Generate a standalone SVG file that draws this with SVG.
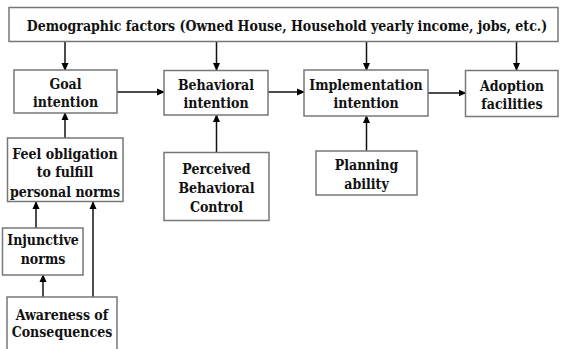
<svg xmlns="http://www.w3.org/2000/svg" width="563" height="349" viewBox="0 0 563 349">
<defs>
<marker id="ah" markerWidth="8" markerHeight="8" refX="7" refY="4" orient="auto" markerUnits="userSpaceOnUse">
<path d="M0,0.5 L8,4 L0,7.5 Z" fill="#000"/>
</marker>
<style>
.box{fill:#fff;stroke:#777;stroke-width:1.5}
.t{font-family:"DejaVu Serif Condensed","DejaVu Serif","Liberation Serif",serif;font-weight:bold;font-size:14px;fill:#111;text-anchor:middle}
.c{stroke:#111;stroke-width:1.5;fill:none;marker-end:url(#ah)}
</style>
</defs>
<rect width="563" height="349" fill="#fff"/>
<g id="connectors">
<line class="c" x1="65" y1="42" x2="65" y2="70"/>
<line class="c" x1="216.5" y1="42" x2="216.5" y2="70"/>
<line class="c" x1="366.5" y1="42" x2="366.5" y2="70"/>
<line class="c" x1="516.5" y1="42" x2="516.5" y2="70"/>
<line class="c" x1="117" y1="92" x2="164" y2="92"/>
<line class="c" x1="268" y1="92" x2="304" y2="92"/>
<line class="c" x1="428" y1="93" x2="465.5" y2="93"/>
<line class="c" x1="65" y1="138" x2="65" y2="113"/>
<line class="c" x1="216.5" y1="152" x2="216.5" y2="115"/>
<line class="c" x1="366.5" y1="151" x2="366.5" y2="116"/>
<line class="c" x1="36" y1="228" x2="36" y2="202"/>
<line class="c" x1="93" y1="297" x2="93" y2="202"/>
<line class="c" x1="43" y1="297" x2="43" y2="275"/>
</g>
<g id="demographic">
<rect class="box" x="9" y="7.5" width="549" height="34"/>
<text class="t" x="287" y="30.5">Demographic factors (Owned House, Household yearly income, jobs, etc.)</text>
</g>
<g id="goal">
<rect class="box" x="14" y="70" width="103" height="43"/>
<text class="t" x="65.5" y="88.5">Goal</text>
<text class="t" x="65.5" y="107">intention</text>
</g>
<g id="behavioral">
<rect class="box" x="164" y="70.5" width="104" height="44.5"/>
<text class="t" x="216" y="90">Behavioral</text>
<text class="t" x="216" y="107.5">intention</text>
</g>
<g id="implementation">
<rect class="box" x="304" y="70" width="124" height="46"/>
<text class="t" x="366" y="90">Implementation</text>
<text class="t" x="366" y="107.5">intention</text>
</g>
<g id="adoption">
<rect class="box" x="465.5" y="70.5" width="92.5" height="46"/>
<text class="t" x="512" y="90.5">Adoption</text>
<text class="t" x="512" y="108.5">facilities</text>
</g>
<g id="feel">
<rect class="box" x="7.5" y="138" width="115.5" height="63.5"/>
<text class="t" x="65" y="158.5">Feel obligation</text>
<text class="t" x="65" y="177">to fulfill</text>
<text class="t" x="65" y="196.5">personal norms</text>
</g>
<g id="perceived">
<rect class="box" x="164" y="152.5" width="105" height="68"/>
<text class="t" x="216.5" y="173.5">Perceived</text>
<text class="t" x="216.5" y="192.5">Behavioral</text>
<text class="t" x="216.5" y="211.5">Control</text>
</g>
<g id="planning">
<rect class="box" x="316" y="151" width="101" height="44"/>
<text class="t" x="366.5" y="170">Planning</text>
<text class="t" x="366.5" y="188.5">ability</text>
</g>
<g id="injunctive">
<rect class="box" x="2.5" y="228" width="80.5" height="47"/>
<text class="t" x="43" y="245">Injunctive</text>
<text class="t" x="43" y="264">norms</text>
</g>
<g id="awareness">
<rect class="box" x="7" y="297" width="110" height="60"/>
<text class="t" x="62" y="319.5">Awareness of</text>
<text class="t" x="62" y="337">Consequences</text>
</g>
</svg>
